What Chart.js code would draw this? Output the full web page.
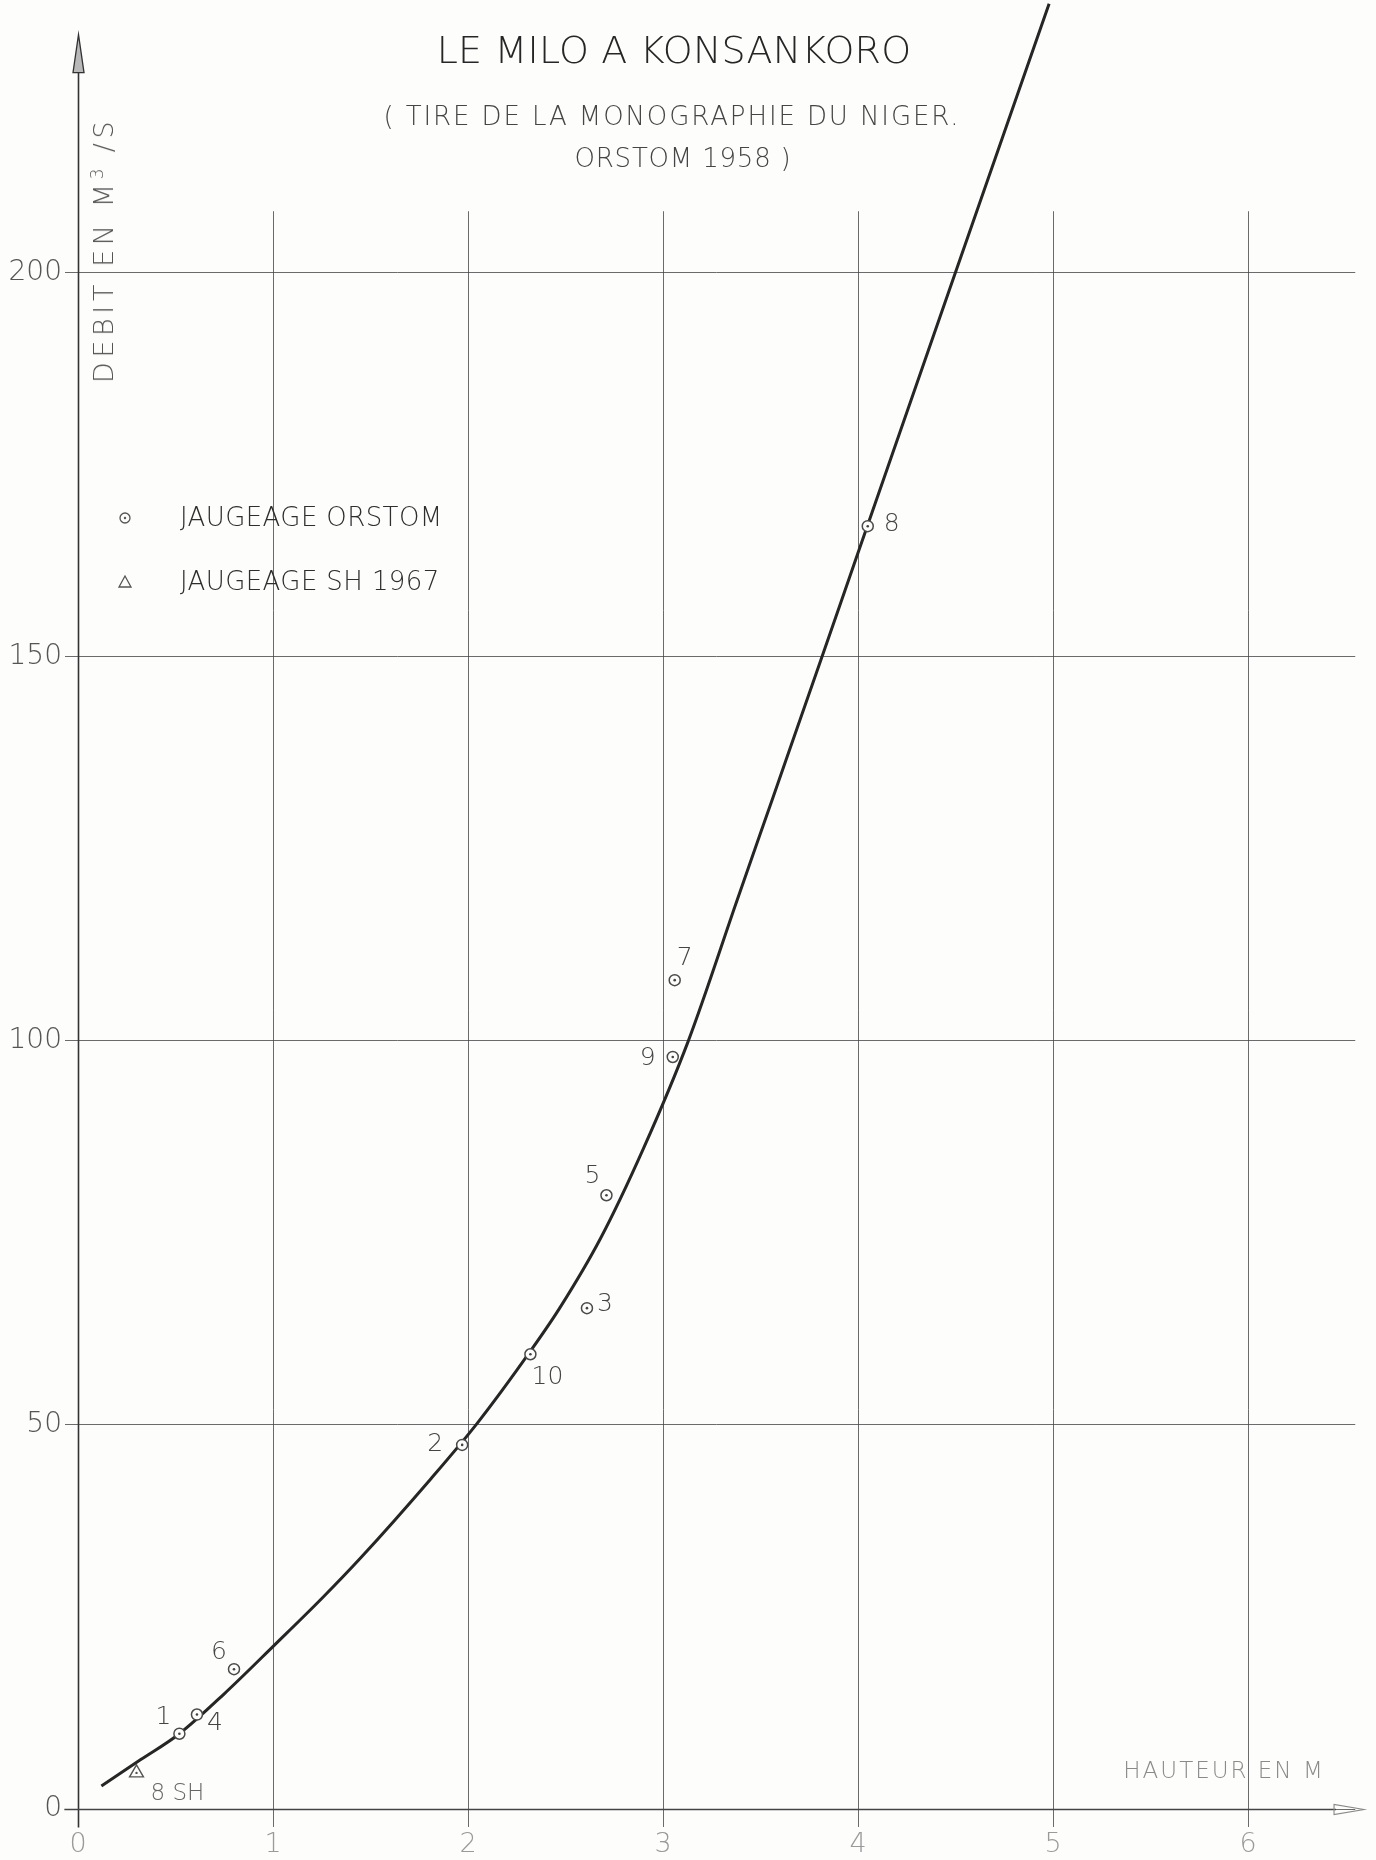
<!DOCTYPE html>
<html>
<head>
<meta charset="utf-8">
<title>Le Milo à Konsankoro</title>
<script src="https://cdn.jsdelivr.net/npm/chart.js@4.4.1/dist/chart.umd.min.js"></script>
<style>
  html, body { margin: 0; padding: 0; background: #fdfdfc; }
  #wrap { position: relative; width: 1376px; height: 1860px; overflow: hidden; }
  #wrap canvas { position: absolute; left: 0; top: 0; }
  .t { position: absolute; white-space: nowrap; font-family: 'DejaVu Sans', sans-serif; font-weight: 200; line-height: 1; }
  #title { left: 674px; top: 31px; transform: translateX(-50%); font-size: 38px; letter-spacing: 0.2px; color: #262626; }
  #sub1 { left: 672px; top: 103px; transform: translateX(-50%); font-size: 26px; letter-spacing: 1.9px; color: #454545; }
  #sub2 { left: 683px; top: 145px; transform: translateX(-50%); font-size: 26px; letter-spacing: 0.8px; color: #454545; }
  #ytitle { left: 103px; top: 250px; transform: translate(-50%, -50%) rotate(-90deg); font-size: 27px; letter-spacing: 4.6px; color: #555; }
  #ytitle sup { font-size: 17px; vertical-align: 10px; letter-spacing: 3px; }
  #xtitle { left: 1224px; top: 1770px; transform: translate(-50%, -50%); font-size: 23px; letter-spacing: 2px; color: #8a8a8a; }
</style>
</head>
<body>
<div id="wrap">
  <canvas id="rating" width="1376" height="1860"></canvas>
  <div class="t" id="title">LE MILO A KONSANKORO</div>
  <div class="t" id="sub1">( TIRE DE LA MONOGRAPHIE DU NIGER.</div>
  <div class="t" id="sub2">ORSTOM 1958 )</div>
  <div class="t" id="ytitle">DEBIT EN M<sup>3</sup> /S</div>
  <div class="t" id="xtitle">HAUTEUR EN M</div>
</div>
<script>
// Axis ticks
const xTicks = [0, 1, 2, 3, 4, 5, 6];
const yTicks = [0, 50, 100, 150, 200];

// Rating curve: stage (m) -> discharge (m3/s)
const curveH = [0.12, 0.32, 0.52, 0.75, 1.01, 1.25, 1.45, 1.81, 2.05, 2.32, 2.47, 2.68, 2.90, 3.13, 3.38, 3.56, 3.81, 3.99, 4.48, 4.98];
const curveQ = [3.0, 6.4, 9.8, 15.0, 21.4, 27.4, 32.7, 43.0, 50.3, 59.6, 65.2, 74.3, 86.0, 100, 118.3, 131.4, 149.6, 162.8, 198.6, 235];

// ORSTOM gaugings
const orstomNames = ['1', '2', '3', '4', '5', '6', '7', '8', '9', '10'];
const orstomH = [0.52, 1.97, 2.61, 0.61, 2.71, 0.80, 3.06, 4.05, 3.05, 2.32];
const orstomQ = [9.8, 47.4, 65.2, 12.3, 79.9, 18.2, 107.9, 167.0, 97.9, 59.2];

// SH 1967 gauging
const shNames = ['8 SH'];
const shH = [0.30];
const shQ = [4.7];

// label placement around each gauging (pixels)
const orstomLabelOffset = [[-16, -16], [-27, 0], [18, -4], [18, 9], [-14, -19], [-15, -17], [10, -22], [24, -2], [-25, 2], [17, 23]];
const shLabelOffset = [[14, 21]];

const FONT = "'DejaVu Sans', sans-serif";
const GRID = 'rgba(70,70,70,0.8)';
const GRID_TOP = 208;

const toPts = (xs, ys) => xs.map((v, i) => ({ x: v, y: ys[i] }));

const sketch = {
  id: 'sketch',
  beforeDatasetsDraw(chart) {
    const { ctx, scales: { x, y } } = chart;
    ctx.save();
    // vertical grid lines, stopping short of the top
    ctx.strokeStyle = GRID;
    ctx.lineWidth = 1;
    xTicks.forEach(v => {
      if (v === 0) return;
      const px = Math.round(x.getPixelForValue(v)) + 0.5;
      ctx.beginPath();
      ctx.moveTo(px, y.getPixelForValue(GRID_TOP));
      ctx.lineTo(px, y.getPixelForValue(0));
      ctx.stroke();
    });
    // axes with arrows
    ctx.strokeStyle = '#333';
    ctx.lineWidth = 1.6;
    const x0 = Math.round(x.getPixelForValue(0)) + 0.5;
    const y0 = Math.round(y.getPixelForValue(0)) + 0.5;
    const yTip = y.getPixelForValue(231.0);
    ctx.beginPath();
    ctx.moveTo(x0, y.getPixelForValue(-2.4));
    ctx.lineTo(x0, yTip + 36);
    ctx.stroke();
    ctx.beginPath();
    ctx.moveTo(x0, yTip);
    ctx.lineTo(x0 - 5.5, yTip + 38);
    ctx.lineTo(x0 + 5.5, yTip + 38);
    ctx.closePath();
    ctx.fillStyle = '#b9b9b9';
    ctx.fill();
    ctx.lineWidth = 1.3;
    ctx.stroke();

    const xTip = x.getPixelForValue(6.595);
    ctx.lineWidth = 1.6;
    ctx.strokeStyle = '#444';
    ctx.beginPath();
    ctx.moveTo(x.getPixelForValue(-0.07), y0);
    ctx.lineTo(xTip - 28, y0);
    ctx.stroke();
    ctx.lineWidth = 1.1;
    ctx.strokeStyle = '#888';
    ctx.beginPath();
    ctx.moveTo(xTip, y0);
    ctx.lineTo(xTip - 30, y0 - 5);
    ctx.lineTo(xTip - 30, y0 + 5);
    ctx.closePath();
    ctx.stroke();
    ctx.restore();
  },
  afterDraw(chart) {
    const { ctx, scales: { x, y } } = chart;
    ctx.save();
    ctx.font = `200 25px ${FONT}`;
    ctx.fillStyle = '#444';
    ctx.textAlign = 'center';
    ctx.textBaseline = 'middle';
    orstomNames.forEach((name, i) => {
      const px = x.getPixelForValue(orstomH[i]) + orstomLabelOffset[i][0];
      const py = y.getPixelForValue(orstomQ[i]) + orstomLabelOffset[i][1];
      ctx.fillText(name, px, py);
    });
    ctx.textAlign = 'left';
    ctx.font = `200 23px ${FONT}`;
    ctx.fillStyle = '#666';
    shNames.forEach((name, i) => {
      const px = x.getPixelForValue(shH[i]) + shLabelOffset[i][0];
      const py = y.getPixelForValue(shQ[i]) + shLabelOffset[i][1];
      ctx.fillText(name, px, py);
    });

    // legend
    const ds = chart.data.datasets;
    const lx = 125, rows = [518, 582];
    ctx.font = `200 26px ${FONT}`;
    ctx.letterSpacing = '0.4px';
    ctx.fillStyle = '#2e2e2e';
    ctx.textAlign = 'left';
    ctx.fillText(ds[1].label, 180, rows[0] + 1);
    ctx.fillText(ds[3].label, 180, rows[1] + 1);
    ctx.letterSpacing = '0px';
    ctx.strokeStyle = '#555';
    ctx.lineWidth = 1.3;
    ctx.beginPath();
    ctx.arc(lx, rows[0], 5, 0, Math.PI * 2);
    ctx.stroke();
    ctx.beginPath();
    ctx.arc(lx, rows[0], 1.2, 0, Math.PI * 2);
    ctx.fillStyle = '#555';
    ctx.fill();
    ctx.beginPath();
    ctx.moveTo(lx, rows[1] - 6);
    ctx.lineTo(lx - 6, rows[1] + 5);
    ctx.lineTo(lx + 6, rows[1] + 5);
    ctx.closePath();
    ctx.stroke();
    ctx.restore();
  }
};

new Chart(document.getElementById('rating'), {
  type: 'scatter',
  data: {
    datasets: [
      {
        type: 'line',
        label: 'Courbe de tarage',
        data: toPts(curveH, curveQ),
        borderColor: '#262626',
        borderWidth: 3,
        pointRadius: 0,
        cubicInterpolationMode: 'monotone',
        fill: false,
        order: 3
      },
      {
        label: 'JAUGEAGE ORSTOM',
        data: toPts(orstomH, orstomQ),
        pointStyle: 'circle',
        pointRadius: 5.5,
        backgroundColor: '#fdfdfc',
        borderColor: '#4a4a4a',
        borderWidth: 1.5,
        order: 2
      },
      {
        label: 'centres ORSTOM',
        data: toPts(orstomH, orstomQ),
        pointRadius: 1.3,
        backgroundColor: '#444',
        borderWidth: 0,
        order: 1
      },
      {
        label: 'JAUGEAGE SH 1967',
        data: toPts(shH, shQ),
        pointStyle: 'triangle',
        pointRadius: 8,
        backgroundColor: '#fdfdfc',
        borderColor: '#555',
        borderWidth: 1.4,
        order: 2
      },
      {
        label: 'centre SH',
        data: toPts(shH, shQ),
        pointRadius: 1.2,
        backgroundColor: '#555',
        borderWidth: 0,
        order: 1
      }
    ]
  },
  options: {
    responsive: false,
    devicePixelRatio: 1,
    animation: false,
    layout: { autoPadding: false, padding: { left: 0, top: 0, right: 20.75, bottom: 0 } },
    plugins: { legend: { display: false }, tooltip: { enabled: false }, title: { display: false } },
    scales: {
      x: {
        type: 'linear',
        position: 'bottom',
        min: 0,
        max: 6.55,
        afterFit: s => { s.height = 51; s.paddingLeft = 0; s.paddingRight = 0; },
        afterBuildTicks: s => { s.ticks = xTicks.map(v => ({ value: v })); },
        grid: { drawOnChartArea: false, drawTicks: true, tickLength: 18, color: GRID, lineWidth: 1 },
        border: { display: false },
        ticks: { padding: 2, color: '#9a9a9a', font: { family: FONT, size: 27, weight: '200' }, callback: v => String(v) }
      },
      y: {
        type: 'linear',
        min: 0,
        max: 235.5,
        afterFit: s => { s.width = 78; s.paddingTop = 0; s.paddingBottom = 0; },
        afterBuildTicks: s => { s.ticks = yTicks.map(v => ({ value: v })); },
        grid: { drawOnChartArea: true, drawTicks: true, tickLength: 13, color: GRID, lineWidth: 1 },
        border: { display: false },
        ticks: { padding: 3, color: '#555', font: { family: FONT, size: 28, weight: '200' }, callback: v => String(v) }
      }
    }
  },
  plugins: [sketch]
});
</script>
</body>
</html>
